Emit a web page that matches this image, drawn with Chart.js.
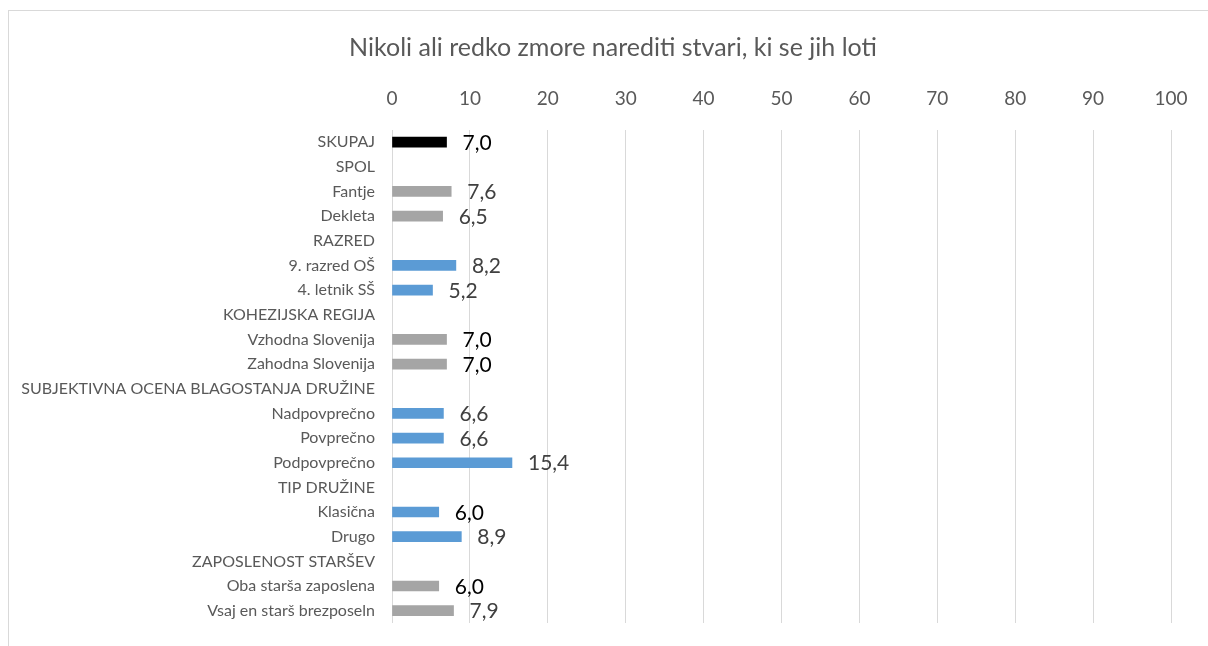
<!DOCTYPE html>
<html>
<head>
<meta charset="utf-8">
<script src="https://cdn.jsdelivr.net/npm/chart.js@4/dist/chart.umd.min.js"></script>
<style>
  html, body { margin: 0; padding: 0; background: #fff; overflow: hidden; }
  #frame { position: absolute; left: 8px; top: 10px; width: 1240px; height: 700px;
           border: 1px solid #d9d9d9; box-sizing: border-box; }
  #wrap { position: absolute; left: 0; top: 0; width: 1208px; height: 646px; }
</style>
</head>
<body>
<div id="frame"></div>
<div id="wrap"><canvas id="barChart"></canvas></div>
<script>
const chartTitle = 'Nikoli ali redko zmore narediti stvari, ki se jih loti';
const categories = [
  'SKUPAJ', 'SPOL', 'Fantje', 'Dekleta', 'RAZRED', '9. razred OŠ', '4. letnik SŠ',
  'KOHEZIJSKA REGIJA', 'Vzhodna Slovenija', 'Zahodna Slovenija',
  'SUBJEKTIVNA OCENA BLAGOSTANJA DRUŽINE', 'Nadpovprečno', 'Povprečno', 'Podpovprečno',
  'TIP DRUŽINE', 'Klasična', 'Drugo', 'ZAPOSLENOST STARŠEV',
  'Oba starša zaposlena', 'Vsaj en starš brezposeln'
];
const values = [7.0, null, 7.6, 6.5, null, 8.2, 5.2, null, 7.0, 7.0,
                null, 6.6, 6.6, 15.4, null, 6.0, 8.9, null, 6.0, 7.9];
const barColors = ['#000000', null, '#a5a5a5', '#a5a5a5', null, '#5b9bd5', '#5b9bd5', null,
                   '#a5a5a5', '#a5a5a5', null, '#5b9bd5', '#5b9bd5', '#5b9bd5', null,
                   '#5b9bd5', '#5b9bd5', null, '#a5a5a5', '#a5a5a5'];
const labelColors = ['#000000', null, '#404040', '#404040', null, '#404040', '#404040', null,
                     '#000000', '#000000', null, '#404040', '#404040', '#404040', null,
                     '#000000', '#404040', null, '#000000', '#404040'];
const xTicks = [0, 10, 20, 30, 40, 50, 60, 70, 80, 90, 100];

const FONT = 'Lato, "Open Sans", sans-serif';

// title centred on the whole frame, not just the chart box
const frameTitle = {
  id: 'frameTitle',
  afterDraw(chart) {
    const ctx = chart.ctx;
    ctx.save();
    ctx.font = '25px ' + FONT;
    ctx.fillStyle = '#595959';
    ctx.textAlign = 'center';
    ctx.textBaseline = 'middle';
    ctx.fillText(chartTitle, 613, 48);
    ctx.restore();
  }
};

// value labels after each bar, decimal comma
const valueLabels = {
  id: 'valueLabels',
  afterDatasetsDraw(chart) {
    const ctx = chart.ctx;
    const meta = chart.getDatasetMeta(0);
    ctx.save();
    ctx.font = '21px ' + FONT;
    ctx.textAlign = 'left';
    ctx.textBaseline = 'middle';
    meta.data.forEach((bar, i) => {
      const v = values[i];
      if (v === null) return;
      ctx.fillStyle = labelColors[i];
      ctx.fillText(v.toFixed(1).replace('.', ','), bar.x + 16, bar.y + 1);
    });
    ctx.restore();
  }
};

new Chart(document.getElementById('barChart'), {
  type: 'bar',
  data: {
    labels: categories,
    datasets: [{
      data: values,
      backgroundColor: barColors,
      barThickness: 10
    }]
  },
  options: {
    indexAxis: 'y',
    responsive: true,
    maintainAspectRatio: false,
    animation: false,
    layout: { padding: { top: 67, left: 0, right: 37, bottom: 23 } },
    plugins: {
      legend: { display: false },
      tooltip: { enabled: false },
      title: { display: false }
    },
    scales: {
      x: {
        position: 'top',
        min: 0,
        max: 100,
        afterBuildTicks: axis => { axis.ticks = xTicks.map(v => ({ value: v })); },
        ticks: { color: '#595959', font: { family: FONT, size: 19 }, padding: 20 },
        grid: { color: '#d9d9d9', drawTicks: false },
        border: { display: false }
      },
      y: {
        afterFit: axis => {
          axis.width = 392;
          axis.paddingTop = 0;
          axis.paddingBottom = 0;
        },
        ticks: { color: '#595959', font: { family: FONT, size: 16 }, padding: 17, autoSkip: false },
        grid: { display: false, drawTicks: false },
        border: { display: false }
      }
    }
  },
  plugins: [valueLabels, frameTitle]
});
</script>
</body>
</html>
